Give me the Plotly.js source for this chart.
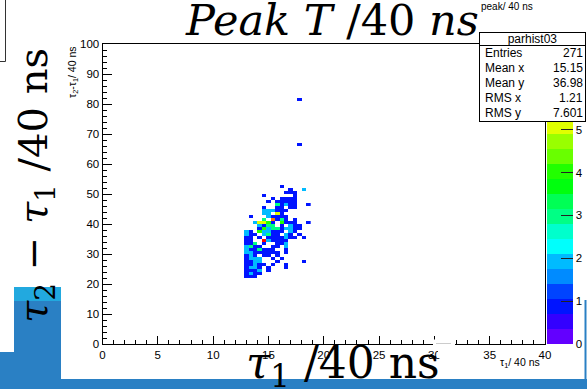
<!DOCTYPE html>
<html>
<head>
<meta charset="utf-8">
<script src="https://cdn.plot.ly/plotly-3.0.1.min.js"></script>
<style>
  html, body { margin: 0; padding: 0; background: #fff; }
  #chart { width: 587px; height: 389px; }
  /* filled bins have slightly soft edges */
  #chart .hm image { filter: blur(0.55px); }
</style>
</head>
<body>
<div id="chart"></div>
<script>
// parhist03 : (tau2 - tau1) versus tau1, both in units of 40 ns.
// Bins are 0.4 wide in x and 1 wide in y; only filled bins are listed.

// x centres of the filled columns
const xBinCenters = [12.6, 13.0, 13.4, 13.8, 14.2, 14.6, 15.0, 15.4,
                     15.8, 16.2, 16.6, 17.0, 17.4, 17.8, 18.2, 18.6];

// bin contents, one character per column, top row first ('.' = empty)
const topRowBin = 52;
const countRows = [
  ".........1......", // 52
  "...........1..2.", // 51
  "..........111...", // 50
  ".....1......1...", // 49
  ".......1.1111...", // 48
  "......1.11111...", // 47
  "........31211..1", // 46
  ".....1..11.11...", // 45
  ".....222111.....", // 44
  ".....22.51......", // 43
  "..1...21111.....", // 42
  ".....3.6131.1...", // 41
  "...25541.4111..1", // 40
  "....2133.1.211..", // 39
  "....1423312211..", // 38
  ".21.422111.21...", // 37
  ".211.2311.21.1..", // 36
  ".11.1.1111211.1.", // 35
  ".11..721111.....", // 34
  ".113.1..112.....", // 33
  ".2311..11.2.....", // 32
  ".2113111..1.....", // 31
  ".22111111.1.....", // 30
  ".121.11.1.......", // 29
  ".1222..1.1......", // 28
  ".1122...1.....1.", // 27
  ".11211.1..1.....", // 26
  ".1221.1...1.....", // 25
  ".1112.1.........", // 24
  ".1211...........", // 23
  ".111............"  // 22
];

// two isolated entries far above the main cluster
const strayX = [17.8, 17.8];
const strayY = [81.5, 66.5];
const strayN = [1, 1];

// statistics box
const statTitle = "parhist03";
const statLabels = ["Entries", "Mean x", "Mean y", "RMS x", "RMS y"];
const statValues = ["271", "15.15", "36.98", "1.21", "7.601"];

// axis ticks
const xMajorTicks = [0, 5, 10, 15, 20, 25, 30, 35, 40];
const yMajorTicks = [0, 10, 20, 30, 40, 50, 60, 70, 80, 90, 100];
const zTicks = [0, 1, 2, 3, 4, 5, 6, 7];

// ---- build the z grid ----
const yLow = 21, yHigh = 82;
const yBinCenters = [];
for (let j = yLow; j <= yHigh; j++) yBinCenters.push(j + 0.5);
const z = yBinCenters.map(() => xBinCenters.map(() => null));
countRows.forEach((row, r) => {
  const j = topRowBin - r;
  for (let c = 0; c < row.length; c++) {
    const ch = row[c];
    if (ch !== '.') z[j - yLow][c] = Number(ch);
  }
});
strayX.forEach((sx, k) => {
  const c = xBinCenters.findIndex(v => Math.abs(v - sx) < 1e-6);
  const j = Math.floor(strayY[k]);
  z[j - yLow][c] = strayN[k];
});

// 20 contour levels of the violet -> red "pretty" palette
const levelColors = [
  "#6300ff", "#3300ff", "#0014ff", "#0044ff", "#008bff",
  "#00bbff", "#00fffc", "#00ffcc", "#00ff85", "#00ff55",
  "#00ff0e", "#22ff00", "#69ff00", "#99ff00", "#e0ff00",
  "#ffee00", "#ffa700", "#ff7700", "#ff3000", "#ff0000"
];
const colorscale = [];
levelColors.forEach((col, i) => {
  colorscale.push([i / levelColors.length, col]);
  colorscale.push([(i + 1) / levelColors.length, col]);
});

// ---- pixel helpers for paper-positioned decorations ----
const W = 587, H = 389;
const PX = p => p / W;
const PY = p => 1 - p / H;

const axisFont = { family: "Liberation Sans, Arial, sans-serif", size: 11.5, color: "#000" };
const statFont = { family: "Liberation Sans, Arial, sans-serif", size: 12, color: "#000" };
const serif = "DejaVu Serif, serif";

const trace = {
  type: "heatmap",
  x: xBinCenters,
  y: yBinCenters,
  z: z,
  zmin: 0,
  zmax: 7,
  colorscale: colorscale,
  hoverinfo: "skip",
  colorbar: {
    x: PX(546.5), xanchor: "left", xpad: 0,
    y: PY(44), yanchor: "top", ypad: 0,
    lenmode: "pixels", len: 300,
    thicknessmode: "pixels", thickness: 26,
    outlinewidth: 0,
    tickmode: "array", tickvals: zTicks,
    ticks: "inside", ticklen: 12, tickcolor: "#222", tickwidth: 1,
    tickfont: axisFont
  }
};

const annotations = [];

// statistics box (drawn as annotations so it sits above the palette)
annotations.push({
  xref: "paper", yref: "paper", x: PX(481), y: PY(34), xanchor: "left", yanchor: "top",
  text: " ", showarrow: false, width: 105, height: 88, borderpad: 0,
  bgcolor: "#555", borderwidth: 0
});
annotations.push({
  xref: "paper", yref: "paper", x: PX(479), y: PY(45), xanchor: "left", yanchor: "top",
  text: " ", showarrow: false, width: 105, height: 75, borderpad: 0,
  bgcolor: "#fff", bordercolor: "#000", borderwidth: 1
});
annotations.push({
  xref: "paper", yref: "paper", x: PX(479), y: PY(32), xanchor: "left", yanchor: "top",
  text: statTitle, font: statFont, showarrow: false, width: 105, height: 12, borderpad: 0,
  bgcolor: "#fff", bordercolor: "#000", borderwidth: 1, align: "center"
});
statLabels.forEach((lab, i) => {
  const yc = 53 + 15 * i;
  annotations.push({
    xref: "paper", yref: "paper", x: PX(484), y: PY(yc), xanchor: "left", yanchor: "middle",
    text: lab, font: statFont, showarrow: false, borderpad: 0
  });
  annotations.push({
    xref: "paper", yref: "paper", x: PX(584), y: PY(yc), xanchor: "right", yanchor: "middle",
    text: statValues[i], font: statFont, showarrow: false, borderpad: 0
  });
});

// small axis labels
annotations.push({
  xref: "paper", yref: "paper", x: PX(541), y: PY(363), xanchor: "right", yanchor: "middle",
  text: "τ<sub>1</sub>/ 40 ns", font: { family: axisFont.family, size: 10.5, color: "#000" },
  showarrow: false, borderpad: 0
});
annotations.push({
  xref: "paper", yref: "paper", x: PX(73), y: PY(45), xanchor: "center", yanchor: "top",
  text: "τ<sub>2</sub>-τ<sub>1</sub>/ 40 ns", textangle: -90,
  font: { family: axisFont.family, size: 10.5, color: "#000" },
  showarrow: false, borderpad: 0
});
annotations.push({
  xref: "paper", yref: "paper", x: PX(480), y: PY(7), xanchor: "left", yanchor: "middle",
  text: "peak/ 40 ns", font: { family: axisFont.family, size: 10, color: "#000" },
  showarrow: false, borderpad: 0
});

// large serif captions
annotations.push({
  xref: "paper", yref: "paper", x: PX(184), y: PY(20), xanchor: "left", yanchor: "middle",
  text: "<i>Peak T </i>/40 <i>ns</i>", font: { family: serif, size: 43, color: "#000" },
  showarrow: false, borderpad: 0
});
annotations.push({
  xref: "paper", yref: "paper", x: PX(36), y: PY(186), xanchor: "center", yanchor: "middle",
  text: "<i>τ</i><sub>2</sub> − <i>τ</i><sub>1</sub> /40 ns", textangle: -90,
  font: { family: serif, size: 40, color: "#000" }, showarrow: false, borderpad: 0
});
annotations.push({
  xref: "paper", yref: "paper", x: PX(343), y: PY(365), xanchor: "center", yanchor: "middle",
  text: "<i>τ</i><sub>1</sub> /40 ns",
  font: { family: serif, size: 44, color: "#000" }, showarrow: false, borderpad: 0
});

const rect = (x0, y0, x1, y1, extra) => Object.assign({
  type: "rect", xref: "paper", yref: "paper", layer: "above",
  x0: PX(x0), x1: PX(x1), y0: PY(y0), y1: PY(y1), line: { width: 0 }
}, extra);

const blue = "#2a80c4", lightBlue = "#22a9df";
const shapes = [
  rect(-3, -3, 5.5, 61.5, { line: { color: "#333", width: 1 }, fillcolor: "rgba(0,0,0,0)" }),
  rect(14, 287, 61, 389, { fillcolor: blue }),
  rect(14, 287, 61, 301, { fillcolor: lightBlue }),
  rect(0, 352, 14, 389, { fillcolor: blue }),
  rect(61, 379, 587, 389, { fillcolor: blue }),
  rect(584.5, 300, 586.5, 379, { fillcolor: blue }),
  rect(433, 339.5, 455, 347, { fillcolor: "#fff" }),
  rect(438, 347, 447, 358, { fillcolor: "#fff" }),
  { type: "line", xref: "paper", yref: "paper", layer: "above",
    x0: PX(436), x1: PX(451), y0: PY(343.5), y1: PY(343.5), line: { color: "#ccc", width: 1 } }
];

const layout = {
  width: W, height: H,
  margin: { l: 0, r: 0, t: 0, b: 0, autoexpand: false },
  paper_bgcolor: "#fff", plot_bgcolor: "#fff",
  showlegend: false,
  xaxis: {
    domain: [PX(102.5), PX(545)], range: [0, 40],
    tickmode: "array", tickvals: xMajorTicks,
    ticks: "inside", ticklen: 8, tickwidth: 1, tickcolor: "#000",
    minor: { dtick: 1, ticks: "inside", ticklen: 4, tickwidth: 1, tickcolor: "#000" },
    showline: true, linecolor: "#000", linewidth: 1, mirror: true,
    showgrid: false, zeroline: false, tickfont: axisFont
  },
  yaxis: {
    domain: [PY(344), PY(44)], range: [0, 100],
    tickmode: "array", tickvals: yMajorTicks,
    ticks: "inside", ticklen: 9, tickwidth: 1, tickcolor: "#000",
    minor: { dtick: 2, ticks: "inside", ticklen: 4.5, tickwidth: 1, tickcolor: "#000" },
    showline: true, linecolor: "#000", linewidth: 1, mirror: true,
    showgrid: false, zeroline: false, tickfont: axisFont
  },
  annotations: annotations,
  shapes: shapes
};

Plotly.newPlot("chart", [trace], layout, { staticPlot: true, displayModeBar: false });
</script>
</body>
</html>
